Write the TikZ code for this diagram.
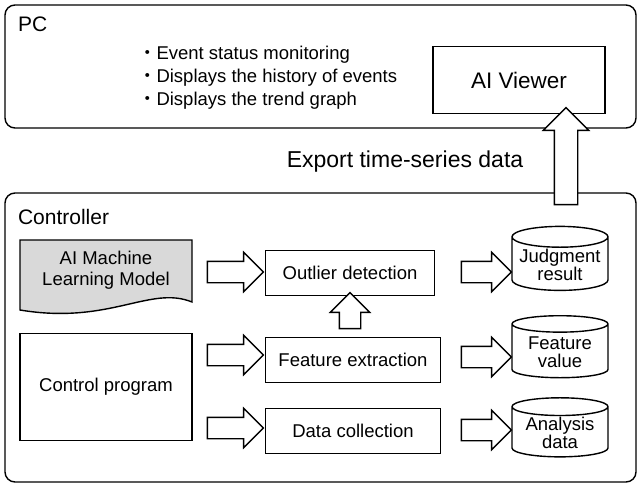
\documentclass[tikz,border=0pt]{standalone}
\usepackage{fontspec}
\setmainfont{Liberation Sans}
\newfontfamily\cjk{Noto Sans CJK JP}
\usetikzlibrary{shapes.geometric,shapes.arrows,positioning}
\tikzset{
  every path/.style={line width=1.4pt},
  panel/.style={draw, rounded corners=10pt},
  block/.style={draw, minimum width=172pt, minimum height=45pt, font=\fontsize{18.5}{20}\selectfont},
  store/.style={draw, cylinder, shape border rotate=90, aspect=0.25, minimum width=96pt, minimum height=64pt, align=center, font=\fontsize{18.5}{18}\selectfont, inner sep=1pt},
  hollow/.style={draw, fill=white, single arrow, single arrow head extend=9pt, inner xsep=0pt, inner ysep=10pt, minimum height=56pt},
  lbl/.style={font=\fontsize{21}{22}\selectfont, anchor=west},
}
\newcommand{\dotmark}{{\cjk ・}}
\begin{document}
\begin{tikzpicture}[x=1pt,y=-1pt]
\useasboundingbox (0,0) rectangle (642,490);

% PC
\draw[panel] (5,5) rectangle (636,128);
\node[lbl] (pc) at (14,24) {PC};
\node[anchor=west, align=left, font=\fontsize{18.5}{23}\selectfont] (items) at (134,78)
  {\dotmark Event status monitoring\\\dotmark Displays the history of events\\\dotmark Displays the trend graph};
\node[draw, minimum width=172pt, minimum height=67pt, font=\fontsize{22.5}{24}\selectfont] (viewer) at (519,80) {AI Viewer};
\node[font=\fontsize{23}{24}\selectfont] (export) at (405,162) {Export time-series data};

% Controller
\draw[panel] (5,193) rectangle (636,482);
\node[lbl] (ctrl) at (14,217) {Controller};

\draw[fill=black!15] (20,240) -- (192,240) -- (192,302)
  .. controls (150,285) and (110,325) .. (20,310) -- cycle;
\node[align=center, font=\fontsize{18.5}{21}\selectfont] (model) at (106,270) {AI Machine\\Learning Model};
\node[draw, minimum width=172pt, minimum height=107pt, font=\fontsize{18.5}{20}\selectfont] (prog) at (106,387) {Control program};

\node[block, minimum width=169pt] (outlier) at (350,273) {Outlier detection};
\node[block, minimum width=175pt] (feature) at (353,360) {Feature extraction};
\node[block, minimum width=175pt] (collect) at (353,431) {Data collection};

\node[store] (judge) at (560,265) {Judgment\\result};
\node[store, minimum height=62pt] (fvalue) at (560,352) {Feature\\value};
\node[store, minimum height=54pt] (adata) at (560,433) {Analysis\\data};

% hollow arrows
\node[hollow] (a1) at (230,272) {};
\node[hollow] (a2) at (230,355) {};
\node[hollow] (a3) at (230,428) {};
\node[hollow, minimum height=50pt] (a4) at (481,272) {};
\node[hollow, minimum height=50pt] (a5) at (481,357) {};
\node[hollow, minimum height=50pt] (a6) at (481,430) {};
\node[hollow, rotate=90, minimum height=36pt] (a7) at (350,316) {};
\node[hollow, rotate=90, minimum height=97pt, single arrow head extend=11pt, inner ysep=11pt] (up) at (566,162) {};
\end{tikzpicture}
\end{document}
